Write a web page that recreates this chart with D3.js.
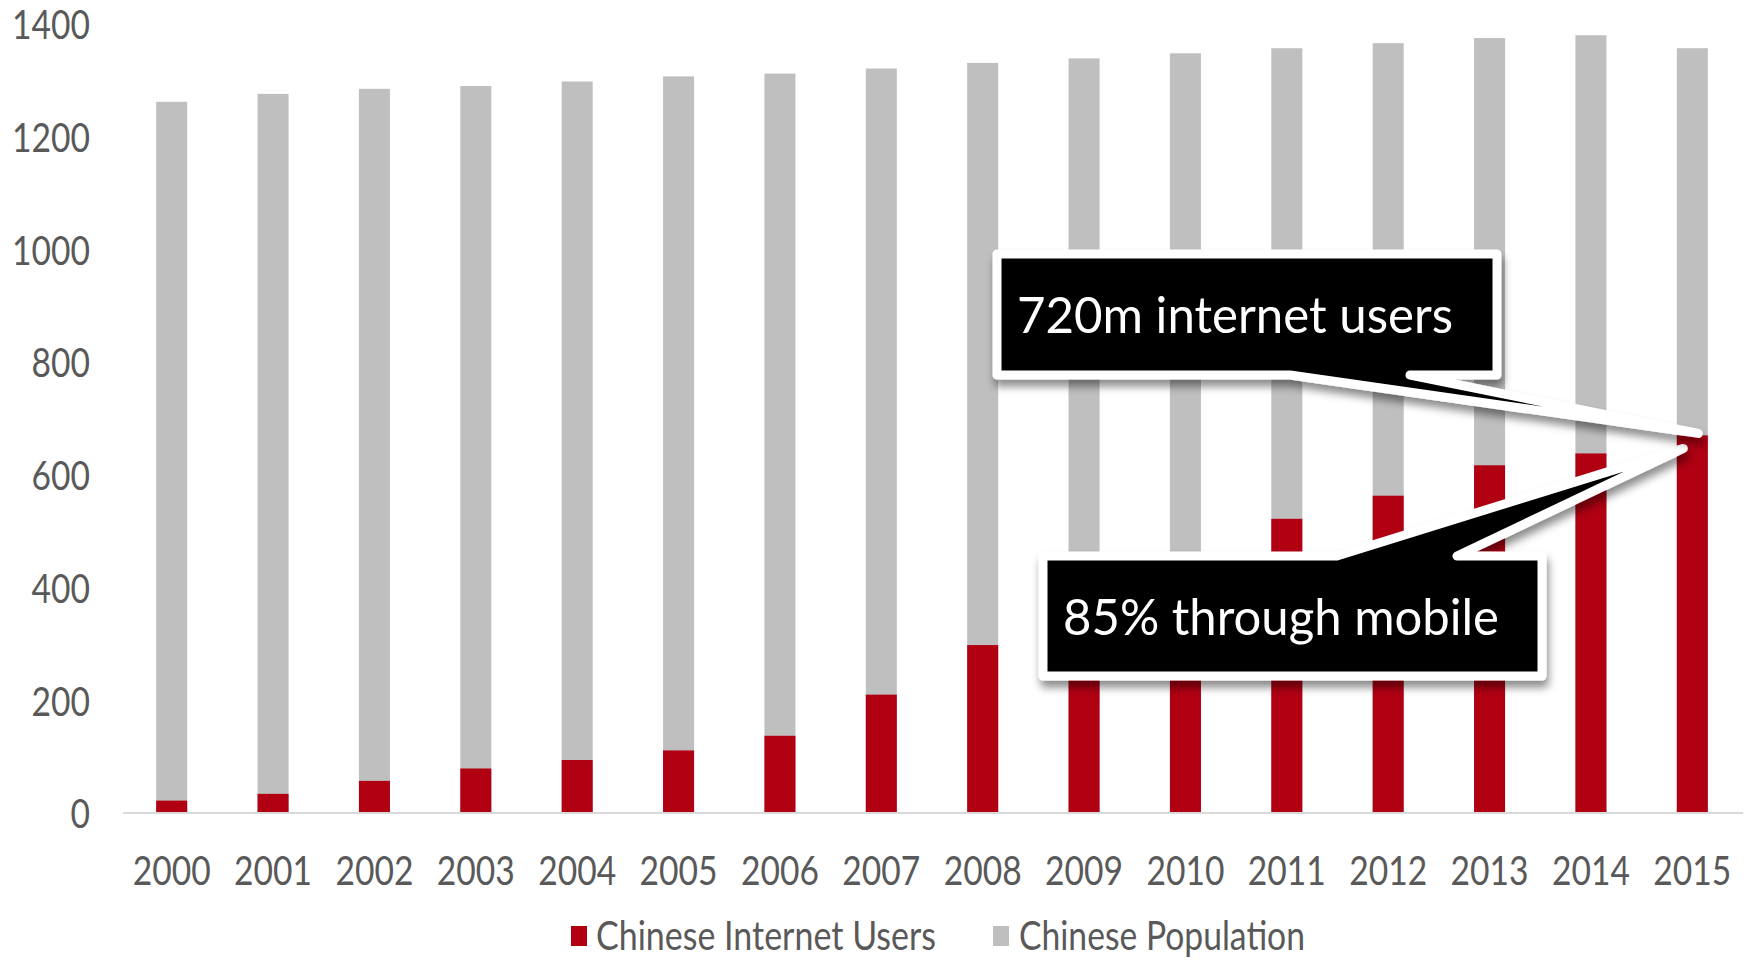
<!DOCTYPE html>
<html>
<head>
<meta charset="utf-8">
<script src="https://cdn.jsdelivr.net/npm/d3@7"></script>
<style>
html,body{margin:0;padding:0;background:#fff;}
svg{display:block;}
</style>
</head>
<body>
<svg id="chart" width="1752" height="960"></svg>
<script>
// ---- Data ----
const years = ["2000","2001","2002","2003","2004","2005","2006","2007","2008","2009","2010","2011","2012","2013","2014","2015"];
const population = [1262,1276,1285,1290,1298,1307,1312,1321,1331,1339,1348,1357,1366,1375,1380,1357];
const internetUsers = [22,34,57,79,94,111,137,210,298,384,457,522,563,617,638,670];
const yTicks = [0,200,400,600,800,1000,1200,1400];
const seriesNames = ["Chinese Internet Users","Chinese Population"];
const calloutTexts = ["720m internet users","85% through mobile"];

// ---- Styles ----
const RED = "#b00012", GRAY = "#bfbfbf", TEXT = "#595959", FONT = "Lato, 'Open Sans', sans-serif";

const svg = d3.select("#chart");
const defs = svg.append("defs");
const f = defs.append("filter").attr("id","shadow").attr("x","-20%").attr("y","-20%").attr("width","140%").attr("height","150%");
f.append("feDropShadow").attr("dx",2).attr("dy",7).attr("stdDeviation",4)
  .attr("flood-color","#000").attr("flood-opacity",0.45);

const x = d3.scaleBand().domain(years).range([121,1743]).paddingInner(0).paddingOuter(0);
const y = d3.scaleLinear().domain([0,1400]).range([813,24]);
const barW = x.bandwidth()*0.306;
const bx = d => x(d) + (x.bandwidth()-barW)/2;

const rows = years.map((yr,i)=>({year:yr, pop:population[i], users:internetUsers[i]}));

// Population bars (behind)
svg.append("g").selectAll("rect").data(rows).join("rect")
  .attr("x", d=>bx(d.year)).attr("width", barW)
  .attr("y", d=>y(d.pop)).attr("height", d=>y(0)-y(d.pop))
  .attr("fill", GRAY);

// Internet users bars (overlapping, front)
svg.append("g").selectAll("rect").data(rows).join("rect")
  .attr("x", d=>bx(d.year)).attr("width", barW)
  .attr("y", d=>y(d.users)).attr("height", d=>y(0)-y(d.users))
  .attr("fill", RED);

// Baseline
svg.append("line")
  .attr("x1", x.range()[0]+2).attr("x2", x.range()[1])
  .attr("y1", y(0)).attr("y2", y(0))
  .attr("stroke","#d9d9d9").attr("stroke-width",2);

// measure horizontal squash for tick text
const tmp = svg.append("text").style("font-family",FONT).style("font-size","41px").text("2000");
const sx = 78 / tmp.node().getComputedTextLength();
tmp.remove();

// Y axis
const ya = svg.append("g").attr("transform","translate(90,0)")
  .call(d3.axisLeft(y).tickValues(yTicks).tickSize(0).tickPadding(0).tickFormat(d3.format("d")));
ya.select(".domain").remove();
ya.selectAll("text")
  .attr("x",0).attr("dy","0.36em")
  .attr("transform",`scale(${sx},1)`)
  .style("font-family",FONT).style("font-size","41px").attr("fill",TEXT);

// X axis
const xa = svg.append("g").attr("transform","translate(0,0)")
  .call(d3.axisBottom(x).tickSize(0).tickPadding(0));
xa.select(".domain").remove();
xa.selectAll("text")
  .attr("y",885).attr("dy",null)
  .attr("transform",`scale(${sx},1)`)
  .style("font-family",FONT).style("font-size","41px").attr("fill",TEXT);

// ---- Callouts ----
const last = rows[rows.length-1];
const cx = x(last.year) + x.bandwidth()/2;
const tip1 = [cx + 6, y(last.users) - 2];
const tip2 = [cx - 9, y(last.users) + 13];

const box2 = {L:1043, R:1542, T:556, B:676, b0:1337, b1:1457};
const box1 = {L:997, R:1497, T:254, B:375, b0:1290, b1:1410};

const p2 = d3.path();
p2.moveTo(box2.L,box2.T); p2.lineTo(box2.b0,box2.T); p2.lineTo(tip2[0],tip2[1]);
p2.lineTo(box2.b1,box2.T); p2.lineTo(box2.R,box2.T); p2.lineTo(box2.R,box2.B);
p2.lineTo(box2.L,box2.B); p2.closePath();

const p1 = d3.path();
p1.moveTo(box1.L,box1.T); p1.lineTo(box1.R,box1.T); p1.lineTo(box1.R,box1.B);
p1.lineTo(box1.b1,box1.B); p1.lineTo(tip1[0],tip1[1]); p1.lineTo(box1.b0,box1.B);
p1.lineTo(box1.L,box1.B); p1.closePath();

[[p2, calloutTexts[1], 1063, 635], [p1, calloutTexts[0], 1017, 333]].forEach(([p, t, tx, ty])=>{
  const g = svg.append("g");
  g.append("path").attr("d", p.toString())
    .attr("fill","#000").attr("stroke","#fff").attr("stroke-width",9)
    .attr("stroke-linejoin","round").attr("filter","url(#shadow)");
  g.append("text").attr("x",tx).attr("y",ty)
    .attr("textLength",436).attr("lengthAdjust","spacingAndGlyphs")
    .style("font-family",FONT).style("font-size","50px").attr("fill","#fff").text(t);
});

// ---- Legend ----
const legend = [
  {name:seriesNames[0], color:RED, rx:571, tx:596, w:340},
  {name:seriesNames[1], color:GRAY, rx:993, tx:1019, w:286}
];
const lg = svg.append("g");
legend.forEach(l=>{
  lg.append("rect").attr("x",l.rx).attr("y",926).attr("width",16).attr("height",20).attr("fill",l.color);
  lg.append("text").attr("x",l.tx).attr("y",950)
    .attr("textLength",l.w).attr("lengthAdjust","spacingAndGlyphs")
    .style("font-family",FONT).style("font-size","41px").attr("fill",TEXT).text(l.name);
});
</script>
</body>
</html>
